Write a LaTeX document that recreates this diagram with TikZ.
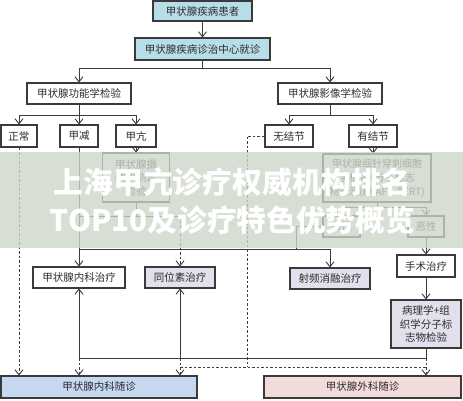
\documentclass[tikz,border=0pt]{standalone}
\usepackage{fontspec}
\usepackage{graphicx}
\newfontfamily\cjk{Noto Sans CJK SC}
\usetikzlibrary{arrows.meta}
\definecolor{bordc}{RGB}{58,58,58}
\definecolor{linec}{RGB}{60,60,60}
\definecolor{txtc}{RGB}{45,45,45}
\definecolor{blueA}{RGB}{183,221,232}
\definecolor{blueB}{RGB}{198,216,240}
\definecolor{pinkA}{RGB}{242,220,219}
\definecolor{purpA}{RGB}{228,223,236}
\definecolor{bannerc}{RGB}{205,214,200}
\tikzset{
  box/.style={draw=bordc, line width=1.1pt, fill=white, inner sep=0pt, align=center,
    font=\cjk\fontsize{10.5}{13.5}\selectfont, text=txtc},
  conn/.style={draw=linec, line width=0.9pt},
  arr/.style={conn, -{Straight Barb[length=5pt,width=8pt]}},
  dsh/.style={conn, dash pattern=on 2.5pt off 2pt},
  dsharr/.style={dsh, -{Straight Barb[length=5pt,width=8pt]}},
  bantext/.style={text=white, inner sep=0pt, anchor=base,
    font=\cjk\bfseries\fontsize{29.6}{30}\selectfont}
}
\begin{document}
\begin{tikzpicture}[x=1pt,y=-1pt]
\useasboundingbox (0,0) rectangle (463,400);
\fill[white] (0,0) rectangle (463,400);

% nodes
\node[box, fill=blueA, minimum width=99, minimum height=20] (n1) at (202.5,11) {甲状腺疾病患者};
\node[box, fill=blueA, minimum width=135, minimum height=22] (n2) at (202.5,49) {甲状腺疾病诊治中心就诊};
\node[box, minimum width=104, minimum height=21] (n3) at (79,93.5) {甲状腺功能学检验};
\node[box, minimum width=104, minimum height=21] (n4) at (330,93.5) {甲状腺影像学检验};
\node[box, minimum width=36, minimum height=22] (zc) at (19,136) {正常};
\node[box, minimum width=38, minimum height=22] (jj) at (79,136) {甲减};
\node[box, minimum width=40, minimum height=22] (jk) at (136,136) {甲亢};
\node[box, minimum width=48, minimum height=22] (wj) at (289,136) {无结节};
\node[box, minimum width=48, minimum height=22] (yj) at (373,136) {有结节};
\node[box, minimum width=67, minimum height=49] (sd) at (136,177.5) {甲状腺摄\\碘率测定\\检验};
\node[box, minimum width=108, minimum height=48, font=\cjk\fontsize{10}{14}\selectfont] (fna) at (377,178) {甲状腺细针穿刺细胞\\学检查+分子标志\\物检测(BRAF、TERT)};
\node[box, minimum width=37, minimum height=21] (lx) at (341.5,226.5) {良性};
\node[box, minimum width=36, minimum height=21] (ex) at (426,226.5) {恶性};
\node[box, minimum width=92, minimum height=21] (nkzl) at (79,277.5) {甲状腺内科治疗};
\node[box, fill=purpA, minimum width=70, minimum height=21] (tws) at (180,277.5) {同位素治疗};
\node[box, fill=purpA, minimum width=80, minimum height=21] (sp) at (330,278.5) {射频消融治疗};
\node[box, minimum width=58, minimum height=22] (ss) at (426,266) {手术治疗};
\node[box, fill=purpA, minimum width=70, minimum height=48] (bl) at (426,324) {病理学+组\\织学分子标\\志物检验};
\node[box, fill=blueB, minimum width=196, minimum height=22] (nksz) at (99,387) {甲状腺内科随诊};
\node[box, fill=pinkA, minimum width=197, minimum height=22] (wksz) at (362.5,387) {甲状腺外科随诊};

% junction coordinates
\coordinate (b1) at (202.5,68);
\coordinate (b2) at (79,115);
\coordinate (b3) at (330,115);
\coordinate (c1) at (136,216);
\coordinate (b4) at (377,207);
\coordinate (d1) at (296,226.5);
\coordinate (d2) at (296,249);
\coordinate (e1) at (426,358);
\coordinate (f1) at (247,136);
\coordinate (f2) at (247,367);
\coordinate (g1) at (180,367);
\coordinate (g2) at (426,367);

% solid connectors
\draw[arr] (n1) -- (n2);
\draw[conn] (n2.south) -- (b1);
\draw[arr] (b1) -| (n3.north);
\draw[arr] (b1) -| (n4.north);
\draw[conn] (n3.south) -- (b2);
\draw[arr] (b2) -| (zc.north);
\draw[arr] (b2) -- (jj.north);
\draw[arr] (b2) -| (jk.north);
\draw[conn] (n4.south) -- (b3);
\draw[arr] (b3) -| (wj.north);
\draw[arr] (b3) -| (yj.north);
\draw[arr] (jj.south) -- (nkzl.north);
\draw[arr] (jk.south) -- (sd.north);
\draw[conn] (sd.south) -- (c1);
\draw[conn] (jj.south |- c1) -- (tws.north |- c1);
\draw[dsharr] (tws.north |- c1) -- (tws.north);
\draw[arr] (yj.south) -- (yj.south |- fna.north);
\draw[conn] (fna.south) -- (b4);
\draw[arr] (b4) -| (lx.north);
\draw[arr] (b4) -| (ex.north);
\draw[conn] (lx.west) -- (d1) -- (d2);
\draw[conn] (jj.south |- d2) -- (sp.north |- d2);
\draw[arr] (sp.north |- d2) -- (sp.north);
\draw[arr] (ex.south) -- (ss.north);
\draw[arr] (ss.south) -- (bl.north);
\draw[conn] (bl.south) -- (e1) -- (nkzl.south |- e1);
\draw[arr] (nkzl.south |- e1) -- (nkzl.south);
\draw[arr] (tws.south |- e1) -- (tws.south);

% dashed connectors
\draw[dsharr] (zc.south) -- (zc.south |- nksz.north);
\draw[dsharr] (nkzl.south |- e1) -- (nkzl.south |- nksz.north);
\draw[dsharr] (tws.south |- e1) -- (tws.south |- nksz.north);
\draw[dsh] (wj.west) -- (f1) -- (f2);
\draw[dsh] (g1) -- (g2);
\draw[dsharr] (e1) -- (e1 |- wksz.north);

% banner overlay
\fill[bannerc, opacity=0.78] (0,152) rectangle (463,248);
\node[bantext] (t1) at (232.5,193) {\resizebox{357pt}{\height}{上海甲亢诊疗权威机构排名}};
\node[bantext] (t2) at (232.5,231) {\resizebox{365pt}{\height}{TOP10及诊疗特色优势概览}};
\end{tikzpicture}
\end{document}
